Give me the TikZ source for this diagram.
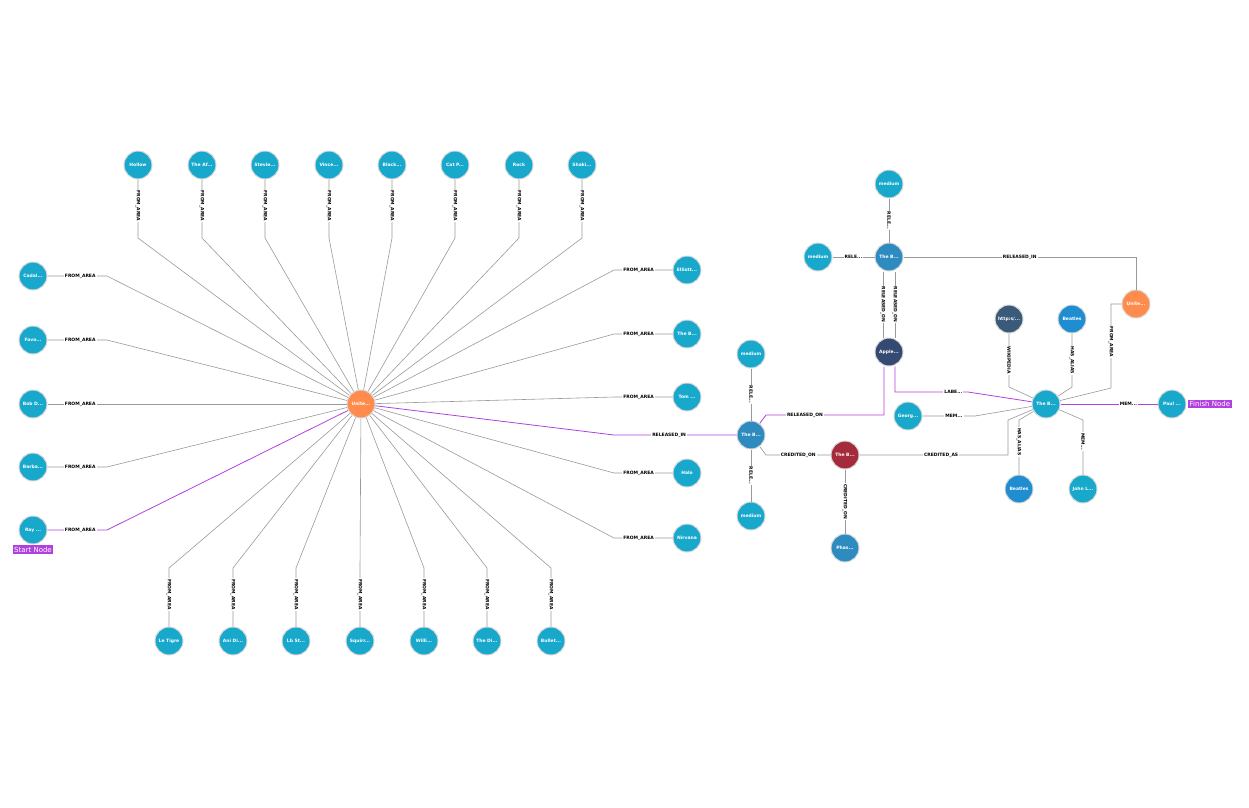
\documentclass[tikz,border=0pt]{standalone}
\usepackage{fontspec}
\setmainfont{DejaVu Sans}
\newcommand\dd{...}
\begin{document}
\begin{tikzpicture}[x=1pt,y=-1pt,
  nd/.style={circle,draw=black!15,line width=1pt,minimum size=28pt,inner sep=0pt,text=white,font=\fontsize{4.5}{5}\selectfont\bfseries},
  teal/.style={nd,fill=cTeal},
  org/.style={nd,fill=cOrg},
  stl/.style={nd,fill=cStl},
  ed/.style={draw=black!40,line width=0.6pt},
  pe/.style={draw=cPur,line width=0.8pt},
  el/.style={fill=white,inner sep=1pt,font=\fontsize{4.5}{5}\selectfont\bfseries},
  tag/.style={fill=cPur,text=white,inner sep=1.5pt,font=\fontsize{7}{8}\selectfont}]
\definecolor{cTeal}{HTML}{17A8CC}
\definecolor{cOrg}{HTML}{FF8C4C}
\definecolor{cStl}{HTML}{2E8BC0}
\definecolor{cRed}{HTML}{A52A3C}
\definecolor{cNavy}{HTML}{344A72}
\definecolor{cSlate}{HTML}{3A5A7A}
\definecolor{cBlue}{HTML}{1F8DD0}
\definecolor{cPur}{HTML}{B040E0}
\useasboundingbox (0,0) rectangle (1249,807);
\node[org] (U) at (361,404) {Unite...};
% top
\foreach \x/\t [count=\i] in {138/Hollow,202/The Af\dd,265/Stevie\dd,329/Vince\dd,392/Black\dd,455/Cat P\dd,519/Rock,582/Shaki\dd}{
  \node[teal] (T\i) at (\x,165) {\t};
  \coordinate (TC\i) at (\x,238);
  \draw[ed] (U) -- (TC\i) -- (T\i) node[el,pos=0.55,rotate=-90]{FROM\_AREA};
}
% left
\foreach \y/\t [count=\i] in {276/Cadal\dd,340/Favo\dd,404/Bob D\dd,467/Barba\dd}{
  \node[teal] (L\i) at (33,\y) {\t};
  \coordinate (LC\i) at (107,\y);
  \draw[ed] (U) -- (LC\i) -- (L\i) node[el,pos=0.45]{FROM\_AREA};
}
\node[teal] (L5) at (33,530) {Ray ...};
\coordinate (LC5) at (107,530);
\draw[pe] (U) -- (LC5) -- (L5) node[el,pos=0.45]{FROM\_AREA};
\node[tag,anchor=north] at (33,545) {Start Node};
% bottom
\foreach \x/\t [count=\i] in {169/Le Tigre,233/Ani Di\dd,296/Lb St\dd,360/Squirr\dd,424/Willi\dd,487/The Di\dd,551/Bullet\dd}{
  \node[teal] (D\i) at (\x,641) {\t};
  \coordinate (DC\i) at (\x,568);
  \draw[ed] (U) -- (DC\i) -- (D\i) node[el,pos=0.45,rotate=-90]{FROM\_AREA};
}
% right
\foreach \y/\t [count=\i] in {270/Elliott\dd,334/The B\dd,397/Tom \dd,473/Halo,538/Nirvana}{
  \node[teal] (R\i) at (687,\y) {\t};
  \coordinate (RC\i) at (614,\y);
  \draw[ed] (U) -- (RC\i) -- (R\i) node[el,pos=0.42]{FROM\_AREA};
}
% B1 cluster
\node[stl] (B1) at (751,435) {The B...};
\coordinate (RI) at (614,435);
\draw[pe] (U) -- (RI) -- (B1) node[el,pos=0.45]{RELEASED\_IN};
\node[teal] (M1) at (751,354) {medium};
\node[teal] (M2) at (751,516) {medium};
\draw[ed] (B1) -- (M1) node[el,midway,rotate=-90]{RELE...};
\draw[ed] (B1) -- (M2) node[el,midway,rotate=-90]{RELE...};
\node[nd,fill=cRed] (RD) at (845,455) {The B...};
\coordinate (CO) at (766,455);
\draw[ed] (B1) -- (CO) -- (RD) node[el,pos=0.5]{CREDITED\_ON};
\node[stl] (PH) at (845,548) {Phas...};
\draw[ed] (RD) -- (PH) node[el,midway,rotate=-90]{CREDITED\_ON};
% top cluster
\node[stl] (B2) at (889,257) {The B...};
\node[nd,fill=cNavy] (AP) at (889,352) {Apple...};
\node[teal] (M3) at (889,184) {medium};
\node[teal] (M4) at (818,257) {medium};
\draw[ed] (B2) -- (M3) node[el,midway,rotate=-90]{RELE...};
\draw[ed] (B2) -- (M4) node[el,midway]{RELE...};
\draw[ed] ([xshift=-6pt]B2.south) -- ([xshift=-6pt]AP.north) node[el,midway,rotate=-90]{RELEASED\_ON};
\draw[ed] ([xshift=6pt]B2.south) -- ([xshift=6pt]AP.north) node[el,midway,rotate=-90]{RELEASED\_ON};
\coordinate (RO1) at (766,415);
\coordinate (RO2) at (884,415);
\draw[pe] (B1) -- (RO1) -- (RO2) node[el,pos=0.33]{RELEASED\_ON} -- (AP.south-|RO2);
\node[org] (U2) at (1136,304) {Unite...};
\coordinate (RN) at (1136,257);
\draw[ed] (B2) -- (RN) node[el,pos=0.5]{RELEASED\_IN} -- (U2);
% B3 cluster
\node[teal] (B3) at (1046,404) {The B...};
\node[nd,fill=cSlate] (WK) at (1009,319) {http:s/...};
\node[nd,fill=cBlue] (BT1) at (1072,319) {Beatles};
\coordinate (WKc) at (1009,387);
\coordinate (BTc) at (1072,387);
\draw[ed] (B3) -- (WKc) -- (WK) node[el,pos=0.5,rotate=-90]{WIKIPEDIA};
\draw[ed] (B3) -- (BTc) -- (BT1) node[el,pos=0.5,rotate=-90]{HAS\_ALIAS};
\coordinate (FA1) at (1111,388);
\coordinate (FA2) at (1111,304);
\draw[ed] (B3) -- (FA1) -- (FA2) node[el,pos=0.55,rotate=-90]{FROM\_AREA} -- (U2);
\coordinate (LB1) at (895,392);
\coordinate (LB2) at (968,392);
\draw[pe] (AP.south-|LB1) -- (LB1) -- (LB2) node[el,pos=0.8]{LABE...} -- (B3);
\node[teal] (PA) at (1172,404) {Paul ...};
\draw[pe] (B3) -- (PA) node[el,pos=0.7]{MEM...};
\node[tag,anchor=west] at (1188,404) {Finish Node};
\node[teal] (GE) at (908,416) {Georg...};
\coordinate (GEc) at (975,416);
\draw[ed] (B3) -- (GEc) -- (GE) node[el,pos=0.4]{MEM...};
\coordinate (CA1) at (1008,420);
\coordinate (CA2) at (1008,455);
\draw[ed] (B3) -- (CA1) -- (CA2) -- (RD) node[el,pos=0.45]{CREDITED\_AS};
\node[nd,fill=cBlue] (BT2) at (1019,489) {Beatles};
\node[teal] (JL) at (1083,489) {John L...};
\coordinate (HA) at (1019,420);
\coordinate (JM) at (1083,420);
\draw[ed] (B3) -- (HA) -- (BT2) node[el,pos=0.4,rotate=-90]{HAS\_ALIAS};
\draw[ed] (B3) -- (JM) -- (JL) node[el,pos=0.4,rotate=-90]{MEM...};
\end{tikzpicture}
\end{document}
